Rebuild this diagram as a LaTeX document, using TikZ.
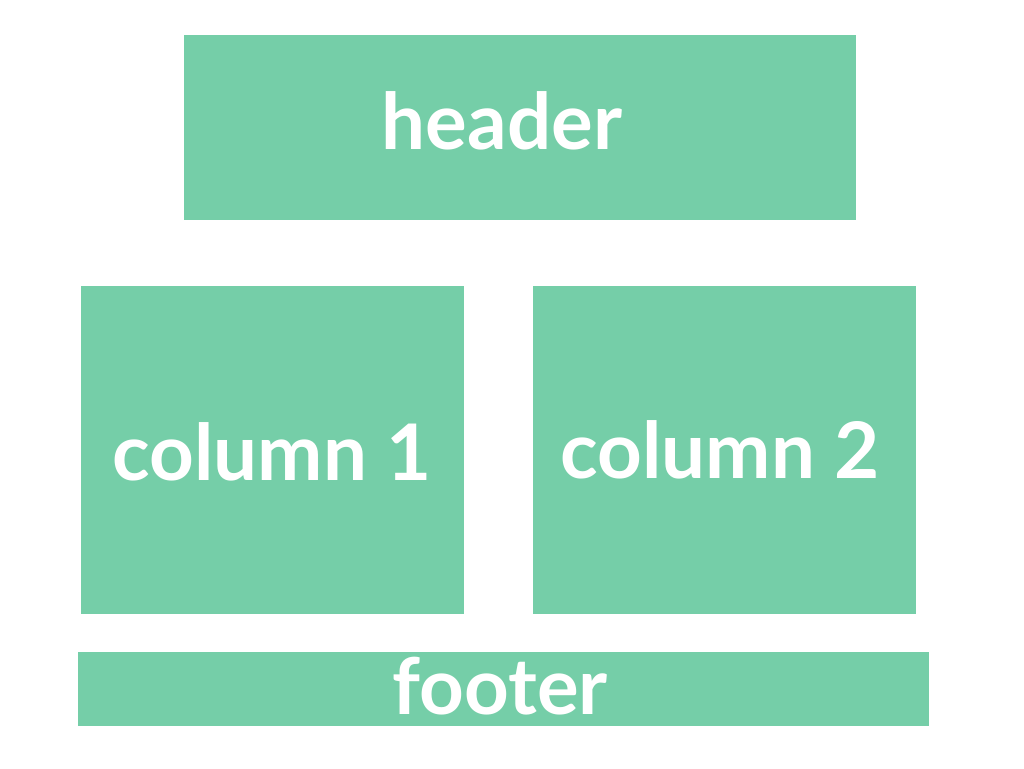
\documentclass[tikz,border=0pt]{standalone}
\usepackage{fontspec}
\setmainfont{Lato}
\definecolor{boxgreen}{HTML}{75CEA8}
\begin{document}
\begin{tikzpicture}[x=1pt,y=-1pt,
  panel/.style={fill=boxgreen, draw=none},
  label/.style={text=white, font=\fontsize{78}{86}\selectfont\bfseries, inner sep=0pt}]
\useasboundingbox (0,0) rectangle (1024,768);
\fill[panel] (184,35) rectangle (856,220);
\fill[panel] (81,286) rectangle (464,614);
\fill[panel] (533,286) rectangle (916,614);
\fill[panel] (78,652) rectangle (929,726);
\node[label] (header) at (502,121) {header};
\node[label] (col1) at (272,452) {column 1};
\node[label] (col2) at (720,450) {column 2};
\node[label] (footer) at (500,686) {footer};
\end{tikzpicture}
\end{document}
